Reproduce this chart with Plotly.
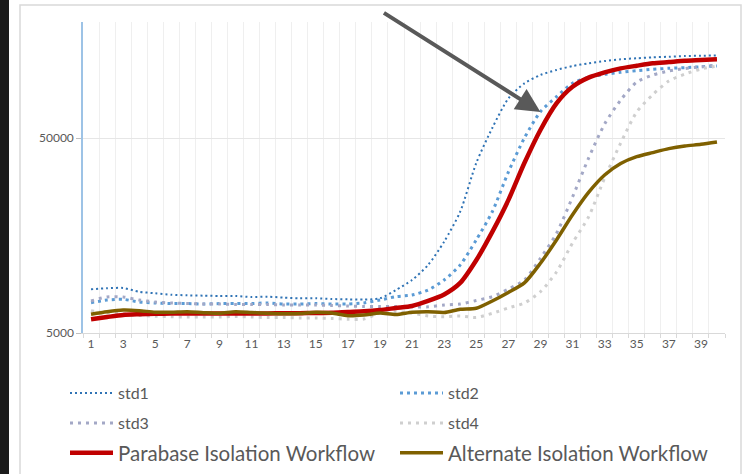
import plotly.graph_objects as go
import math

cycles = list(range(1, 41))

std1 = [8380, 8480, 8510, 8140, 7990, 7860, 7800, 7770, 7740, 7740,
        7650, 7680, 7590, 7530, 7530, 7470, 7440, 7420, 7530, 8310,
        9350, 11160, 14700, 20940, 37200, 56300, 79700, 95400, 105200, 111700,
        117000, 120800, 124100, 126700, 128200, 129700, 130600, 131700, 132100, 132700]

std2 = [7150, 7380, 7440, 7210, 7130, 7080, 7080, 7040, 7080, 7080,
        7080, 7130, 7040, 7040, 7080, 7040, 7040, 7130, 7380, 7680,
        7830, 8310, 9350, 11160, 15000, 20940, 33400, 50000, 68200, 81400,
        95400, 102400, 106100, 108600, 110700, 112500, 113900, 114700, 116000, 117000]

std3 = [7300, 7650, 7650, 7380, 7210, 7130, 7080, 7040, 7040, 7000,
        7000, 7000, 6960, 6960, 6960, 6920, 6880, 6840, 6830, 6830,
        6810, 6810, 6960, 7040, 7340, 7680, 8400, 9350, 12080, 16200,
        24900, 39400, 59000, 78300, 96800, 105200, 110300, 113600, 116000, 118300]

std4 = [6500, 6330, 6270, 6150, 6100, 6060, 6040, 6040, 6040, 6080,
        6040, 6000, 6000, 5970, 5970, 5940, 5880, 5900, 6330, 6410,
        6330, 6110, 6060, 6110, 6010, 6310, 6720, 7130, 8140, 10280,
        14470, 19700, 31200, 47100, 68000, 83500, 98000, 106400, 113000, 117000]

parabase = [5880, 6040, 6190, 6240, 6270, 6290, 6290, 6290, 6290, 6300,
            6300, 6300, 6310, 6320, 6330, 6350, 6410, 6460, 6560, 6720,
            6880, 7300, 7880, 9030, 11800, 16500, 24000, 37200, 55000, 75300,
            91600, 102000, 108500, 113800, 117400, 120800, 122600, 124500, 125500, 126700]

alternate = [6240, 6430, 6560, 6510, 6390, 6390, 6430, 6360, 6310, 6430,
             6370, 6310, 6270, 6290, 6390, 6330, 6130, 6180, 6330, 6220,
             6390, 6430, 6370, 6620, 6700, 7300, 8070, 9030, 11390, 15000,
             20200, 26300, 32300, 37000, 40100, 42100, 44100, 45500, 46400, 47700]

x_tick_vals = list(range(1, 41, 2))
x_tick_text = [str(v) for v in x_tick_vals]
y_tick_vals = [5000, 50000]
y_tick_text = ["5000", "50000"]

FONT = "Lato"
TXT = "#595959"

fig = go.Figure()

def add(name, y, color, width, dash, legend):
    fig.add_trace(go.Scatter(
        x=cycles, y=y, name=name, mode="lines",
        line=dict(color=color, width=width, dash=dash, shape="spline", smoothing=0.7),
        legend=legend, hoverinfo="skip"))

add("std1", std1, "#2f73b5", 2, "2px,3px", "legend")
add("std2", std2, "#5b9bd5", 3, "3px,4px", "legend")
add("std3", std3, "#a3a8c6", 3, "3px,5px", "legend2")
add("std4", std4, "#cfcfcf", 3, "3px,5px", "legend2")
add("Parabase Isolation Workflow", parabase, "#c00000", 4.5, "solid", "legend3")
add("Alternate Isolation Workflow", alternate, "#7f6000", 3.5, "solid", "legend3")

L, R, T, B = 83, 18, 22, 141
W, H = 743, 474
pw, ph = W - L - R, H - T - B

def px(xp):
    return (xp - L) / pw

def py(yp):
    return (H - B - yp) / ph

legend_common = dict(orientation="h", xanchor="left", yanchor="middle",
                     bgcolor="rgba(0,0,0,0)", entrywidthmode="pixels",
                     itemwidth=43, tracegroupgap=0)

fig.update_layout(
    width=W, height=H,
    margin=dict(l=L, r=R, t=T, b=B, autoexpand=False),
    paper_bgcolor="white", plot_bgcolor="white",
    font=dict(family=FONT, color=TXT),
    legend=dict(**legend_common, x=px(65), y=py(393), entrywidth=272,
                font=dict(family=FONT, size=16, color=TXT)),
    legend2=dict(**legend_common, x=px(65), y=py(423), entrywidth=272,
                 font=dict(family=FONT, size=16, color=TXT)),
    legend3=dict(**legend_common, x=px(65), y=py(453), entrywidth=272,
                 font=dict(family=FONT, size=20.5, color=TXT)),
    xaxis=dict(
        range=[0.5, 40.5], tickmode="array", tickvals=x_tick_vals, ticktext=x_tick_text,
        showgrid=False, ticks="", showline=True, linecolor="#d9d9d9", linewidth=1,
        tickfont=dict(family=FONT, size=12, color=TXT), zeroline=False,
        minor=dict(tick0=0.5, dtick=1, showgrid=True, gridcolor="#efefef", gridwidth=1,
                   ticks="outside", ticklen=4, tickcolor="#d9d9d9"),
    ),
    yaxis=dict(
        type="log", range=[math.log10(5000), 5.294],
        tickmode="array", tickvals=y_tick_vals, ticktext=y_tick_text,
        showgrid=True, gridcolor="#e6e6e6", gridwidth=1,
        ticks="outside", ticklen=5, tickcolor="#bfbfbf",
        showline=True, linecolor="#9dc3e6", linewidth=1.5,
        tickfont=dict(family=FONT, size=12, color=TXT), zeroline=False,
    ),
    shapes=[
        dict(type="rect", xref="paper", yref="paper", x0=px(20), x1=px(741), y0=py(480), y1=py(5),
             line=dict(color="#d9d9d9", width=1.5), fillcolor="rgba(0,0,0,0)", layer="below"),
        dict(type="rect", xref="paper", yref="paper", x0=px(-5), x1=px(9), y0=py(480), y1=py(-5),
             line=dict(width=0), fillcolor="#1b1b1b", layer="above"),
    ],
    annotations=[
        dict(x=29.0, y=math.log10(68000), xref="x", yref="y", text="", showarrow=True,
             ax=-158, ay=-100, axref="pixel", ayref="pixel",
             arrowhead=2, arrowsize=1.2, arrowwidth=4, arrowcolor="#595959", standoff=0),
    ],
)

fig.write_html("out.html", config={"displayModeBar": False},
               post_script="document.body.style.margin='0';document.body.style.overflow='hidden';")
